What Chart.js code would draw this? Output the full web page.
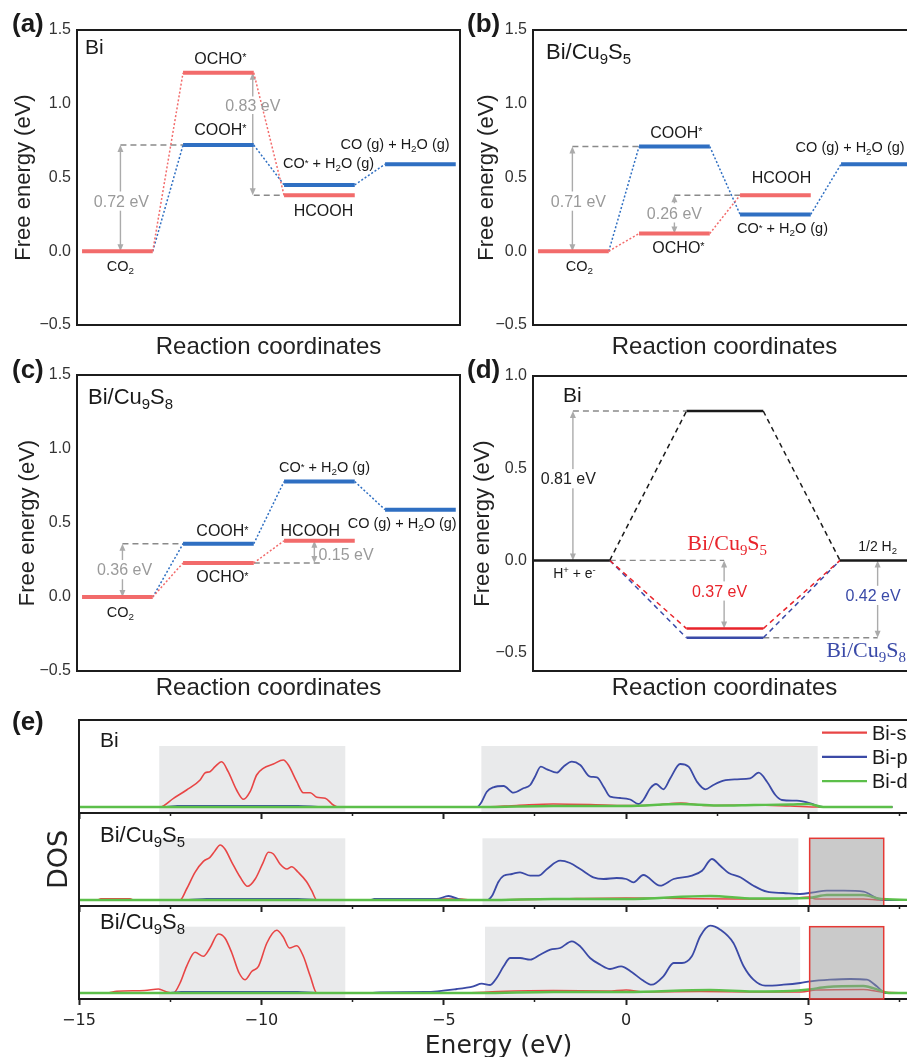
<!DOCTYPE html>
<html>
<head>
<meta charset="utf-8">
<script src="https://cdn.jsdelivr.net/npm/chart.js@4.4.1/dist/chart.umd.min.js"></script>
<style>
html, body { margin: 0; padding: 0; background: #fff; width: 907px; height: 1057px; overflow: hidden; }
canvas { position: absolute; }
</style>
</head>
<body>
<canvas id="pa" width="462" height="362" style="left:0;top:0"></canvas>
<canvas id="pb" width="462" height="362" style="left:456px;top:0"></canvas>
<canvas id="pc" width="462" height="358" style="left:0;top:345px"></canvas>
<canvas id="pd" width="462" height="358" style="left:456px;top:345px"></canvas>
<canvas id="e1" width="920" height="121" style="left:0;top:700px"></canvas>
<canvas id="e2" width="920" height="121" style="left:0;top:793px"></canvas>
<canvas id="e3" width="920" height="175" style="left:0;top:886px"></canvas>
<script>
var SANS = '"Liberation Sans", Arial, Helvetica, sans-serif';
var SERIF = '"Liberation Serif", "Times New Roman", serif';
var WIDE = '"DejaVu Sans", sans-serif';

// ---- free energy diagrams (eV) ----
// CO2RR steps: CO2 -> COOH*/OCHO* -> CO*+H2O / HCOOH -> CO(g)+H2O(g)
var co2rrSteps = ['CO2', 'COOH* / OCHO*', 'CO* + H2O / HCOOH', 'CO (g) + H2O (g)'];
var aRed = [0.00, 1.21, 0.38];        // Bi: CO2, OCHO*, HCOOH
var aBlue = [0.00, 0.72, 0.45, 0.59]; // Bi: CO2, COOH*, CO*, CO(g)
var bRed = [0.00, 0.12, 0.38];        // Bi/Cu9S5
var bBlue = [0.00, 0.71, 0.25, 0.59];
var cRed = [0.00, 0.23, 0.38];        // Bi/Cu9S8
var cBlue = [0.00, 0.36, 0.78, 0.59];

// HER: H+ + e- -> H* -> 1/2 H2
var herSteps = ['H+ + e-', 'H*', '1/2 H2'];
var herBi = [0.00, 0.81, 0.00];
var herS5 = [0.00, -0.37, 0.00];
var herS8 = [0.00, -0.42, 0.00];

var energyTicks = [-0.5, 0, 0.5, 1.0, 1.5];
var energyTickLabels = ['\u22120.5', '0.0', '0.5', '1.0', '1.5'];
var herTicks = [-0.5, 0, 0.5, 1.0];
var herTickLabels = ['\u22120.5', '0.0', '0.5', '1.0'];

// ---- projected DOS, [energy (eV), DOS] ----
var eTicks = [-15, -12.5, -10, -7.5, -5, -2.5, 0, 2.5, 5, 7.5];
var eTickLabels = ['\u221215', '', '\u221210', '', '\u22125', '', '0', '', '5', ''];

var biS = [[-15,0],[-12.78,0],[-12.41,0.87],[-12.05,1.7],[-11.68,2.7],[-11.54,3.43],[-11.41,3.53],[-11.27,4.03],[-11.09,4.53],[-10.91,3.53],[-10.68,1.7],[-10.49,0.77],[-10.31,1.53],[-10.13,3.2],[-9.95,3.87],[-9.67,4.3],[-9.4,4.7],[-9.26,4.2],[-9.03,2.53],[-8.85,1.43],[-8.66,1.43],[-8.48,0.97],[-8.25,0.87],[-8.03,0.2],[-7.89,0],[-4.0,0],[-3.0,0.15],[-2.0,0.3],[-1.0,0.25],[0,0.15],[0.8,0.2],[1.5,0.4],[2.2,0.15],[3.5,0.2],[4.5,0.1],[5.3,0],[7.3,0]];
var biP = [[-15,0],[-12.6,0],[-12.3,0.1],[-9.0,0.1],[-8.3,0],[-4.09,0],[-3.96,0.53],[-3.82,1.53],[-3.64,1.97],[-3.36,2.1],[-3.09,1.43],[-2.82,1.87],[-2.63,2.2],[-2.5,3.03],[-2.34,4.03],[-2.17,3.77],[-1.9,3.43],[-1.72,4.03],[-1.49,4.53],[-1.26,4.2],[-0.99,3.03],[-0.8,2.97],[-0.62,2.03],[-0.44,1.03],[-0.16,0.9],[0.11,0.75],[0.34,0.3],[0.47,0.7],[0.66,1.87],[0.82,2.3],[1.02,1.77],[1.21,2.87],[1.48,4.3],[1.71,4.03],[1.94,2.53],[2.17,1.77],[2.39,2.2],[2.67,2.63],[3.04,2.77],[3.4,2.87],[3.63,3.43],[3.86,2.53],[4.09,1.2],[4.27,0.7],[4.68,0.63],[5.05,0.37],[5.32,0.03],[5.5,0],[7.3,0]];
var biD = [[-15,0],[-4,0],[-2,0.1],[0,0.1],[1.5,0.3],[2.5,0.15],[3.5,0.2],[4.5,0.25],[5.0,0.3],[5.4,0],[7.3,0]];

var s5S = [[-15,0],[-14.5,0],[-14.4,0.13],[-13.6,0.13],[-13.5,0],[-12.23,0],[-12.05,1.1],[-11.82,2.77],[-11.59,3.87],[-11.41,4.27],[-11.27,4.93],[-11.13,5.5],[-11.0,5.1],[-10.81,3.77],[-10.58,2.27],[-10.38,1.37],[-10.17,2.1],[-9.95,3.77],[-9.81,4.77],[-9.67,4.6],[-9.49,3.6],[-9.3,3.1],[-9.17,3.33],[-8.99,2.77],[-8.76,1.83],[-8.62,0.93],[-8.48,0],[-7.0,0],[-6.8,0.1],[-4.5,0.1],[-4.3,0],[-3.8,0],[-2,0.1],[0,0.2],[1.5,0.15],[3,0.1],[4.5,0.15],[5.0,0.3],[5.2,0.1],[6.5,0.1],[7.0,0],[8,0]];
var s5P = [[-15,0],[-12,0],[-11.5,0.1],[-9,0.1],[-8.5,0],[-7.02,0],[-6.9,0.1],[-5.2,0.1],[-4.87,0.4],[-4.6,0.1],[-4.46,0],[-3.82,0],[-3.68,0.4],[-3.5,1.83],[-3.36,2.43],[-3.13,2.6],[-2.91,2.77],[-2.63,2.43],[-2.4,2.43],[-2.17,3.1],[-1.81,3.93],[-1.54,3.7],[-1.26,3.1],[-0.9,2.27],[-0.62,2.1],[-0.26,2.2],[0.0,2.1],[0.2,1.77],[0.47,2.5],[0.93,1.43],[1.3,2.1],[1.8,2.43],[2.08,2.93],[2.35,4.1],[2.58,3.43],[2.81,2.7],[3.13,2.27],[3.49,1.43],[3.86,0.83],[4.31,0.7],[4.77,0.6],[5.14,0.77],[5.5,0.93],[5.96,0.93],[6.51,0.83],[6.87,0.17],[7.05,0],[8,0]];
var s5D = [[-15,0],[-3.8,0],[-2,0.1],[0,0.1],[2.3,0.4],[3.5,0.15],[5.0,0.2],[5.5,0.5],[6.5,0.5],[7.0,0.1],[8,0]];

var s8S = [[-15,0],[-14.2,0],[-13.97,0.17],[-13.2,0.25],[-12.82,0.4],[-12.59,0.1],[-12.41,0],[-12.23,1.0],[-12.05,2.67],[-11.82,4.07],[-11.59,3.67],[-11.41,4.5],[-11.18,5.9],[-11.0,5.5],[-10.81,4.0],[-10.61,2.0],[-10.45,1.33],[-10.26,2.17],[-10.08,2.67],[-9.85,5.0],[-9.58,6.27],[-9.4,5.6],[-9.23,4.5],[-9.03,4.73],[-8.85,3.67],[-8.66,1.67],[-8.48,0],[-4.5,0],[-3.5,0.15],[-2,0.25],[-0.5,0.2],[0,0.3],[0.5,0.1],[2,0.15],[3.5,0.1],[4.8,0.1],[5.2,0.3],[6.5,0.35],[7.0,0.1],[8,0]];
var s8P = [[-15,0],[-12.5,0],[-12.2,0.1],[-9,0.1],[-8.5,0],[-7,0],[-6.75,0.07],[-5.5,0.1],[-4.64,0.4],[-4.19,0.67],[-3.96,0.93],[-3.73,0.8],[-3.55,1.5],[-3.36,2.67],[-3.18,3.5],[-2.91,3.5],[-2.63,3.33],[-2.36,3.83],[-2.08,4.33],[-1.81,4.5],[-1.49,5.17],[-1.26,4.67],[-0.99,3.5],[-0.71,2.83],[-0.44,2.4],[-0.14,2.67],[0.16,2.07],[0.43,1.33],[0.7,0.83],[1.02,1.67],[1.3,3.0],[1.53,3.0],[1.8,3.67],[2.03,5.67],[2.3,6.73],[2.58,6.33],[2.94,5.0],[3.22,2.67],[3.49,1.33],[3.81,0.73],[4.31,0.83],[4.77,1.0],[5.05,1.17],[5.59,1.33],[6.14,1.4],[6.6,1.33],[6.87,0.67],[7.1,0],[8,0]];
var s8D = [[-15,0],[-4,0],[-2,0.1],[0,0.1],[2.3,0.3],[3.5,0.15],[4.5,0.2],[5.0,0.35],[5.5,0.6],[6.5,0.7],[7.0,0.2],[7.2,0],[8,0]];

var RED_L = '#f26b6b', BLUE_L = '#2f6fc2';
var HER_K = '#1a1a1a', HER_R = '#e8242b', HER_B = '#3a4aa8';
var DOS_R = '#e84545', DOS_B = '#3b4aa6', DOS_G = '#5cbf4a';
var GRAY_T = '#9a9a9a';

Chart.defaults.font.family = SANS;
Chart.defaults.color = '#222';

// text with _x subscripts and ^x superscripts
function drawRich(ctx, str, x, y, o) {
  var size = o.size || 16, fam = o.family || SANS, wt = o.bold ? 'bold ' : '';
  var parts = [];
  for (var i = 0; i < str.length; i++) {
    var c = str[i], k = 'n';
    if ((c === '_' || c === '^') && i + 1 < str.length) { k = c; c = str[++i]; }
    var last = parts[parts.length - 1];
    if (last && last.k === k) last.t += c; else parts.push({ k: k, t: c });
  }
  var total = 0;
  parts.forEach(function (p) {
    p.fs = p.k === 'n' ? size : size * 0.68;
    ctx.font = wt + p.fs + 'px ' + fam;
    p.w = ctx.measureText(p.t).width;
    total += p.w;
  });
  var align = o.align || 'center';
  var x0 = align === 'left' ? x : (align === 'right' ? x - total : x - total / 2);
  var base = y + size * 0.36;
  if (o.bg) { ctx.fillStyle = '#fff'; ctx.fillRect(x0 - 2, y - size * 0.6, total + 4, size * 1.2); }
  ctx.fillStyle = o.color || '#1a1a1a';
  ctx.textAlign = 'left';
  ctx.textBaseline = 'alphabetic';
  parts.forEach(function (p) {
    var dy = 0;
    if (p.k === '_') dy = size * 0.22;
    if (p.k === '^') dy = p.t === '*' ? -size * 0.15 : -size * 0.36;
    ctx.font = wt + p.fs + 'px ' + fam;
    ctx.fillText(p.t, x0, base + dy);
    x0 += p.w;
  });
}

function head(ctx, x, y, dir) {
  ctx.beginPath();
  ctx.moveTo(x, y);
  ctx.lineTo(x - 3, y + dir * 7);
  ctx.lineTo(x + 3, y + dir * 7);
  ctx.closePath();
  ctx.fill();
}

function drawNotes(chart, items, onTop) {
  var ctx = chart.ctx, a = chart.chartArea, sx = chart.scales.x, sy = chart.scales.y;
  ctx.save();
  items.forEach(function (it) {
    var top = ['text', 'frame', 'box', 'legend'].indexOf(it.t) >= 0;
    if (top !== onTop) return;
    if (it.t === 'frame') {
      ctx.setLineDash([]);
      ctx.strokeStyle = '#1c1c1c';
      ctx.lineWidth = 2;
      ctx.strokeRect(a.left, a.top, a.right - a.left, a.bottom - a.top);
    } else if (it.t === 'dash') {
      var yy = sy.getPixelForValue(it.y);
      ctx.setLineDash([6, 4]);
      ctx.strokeStyle = '#8a8a8a';
      ctx.lineWidth = 1.4;
      ctx.beginPath();
      ctx.moveTo(sx.getPixelForValue(it.x1), yy);
      ctx.lineTo(sx.getPixelForValue(it.x2), yy);
      ctx.stroke();
    } else if (it.t === 'arrow') {
      var ax = sx.getPixelForValue(it.x);
      var p1 = sy.getPixelForValue(it.y1), p2 = sy.getPixelForValue(it.y2);
      var yt = Math.min(p1, p2), yb = Math.max(p1, p2);
      ctx.setLineDash([]);
      ctx.strokeStyle = '#ababab';
      ctx.fillStyle = '#ababab';
      ctx.lineWidth = 1.4;
      ctx.beginPath();
      if (it.gap) {
        var g1 = sy.getPixelForValue(it.gap[1]), g2 = sy.getPixelForValue(it.gap[0]);
        ctx.moveTo(ax, yt + 6); ctx.lineTo(ax, g1);
        ctx.moveTo(ax, g2); ctx.lineTo(ax, yb - 6);
      } else {
        ctx.moveTo(ax, yt + 6); ctx.lineTo(ax, yb - 6);
      }
      ctx.stroke();
      head(ctx, ax, yt, 1);
      head(ctx, ax, yb, -1);
    } else if (it.t === 'shade' || it.t === 'box') {
      var bx1 = sx.getPixelForValue(it.x1), bx2 = sx.getPixelForValue(it.x2), by = sy.getPixelForValue(it.top);
      ctx.setLineDash([]);
      ctx.fillStyle = it.t === 'shade' ? '#e9eaeb' : 'rgba(150,150,150,0.5)';
      ctx.fillRect(bx1, by, bx2 - bx1, a.bottom - by);
      if (it.t === 'box') {
        ctx.strokeStyle = '#e53935';
        ctx.lineWidth = 1.5;
        ctx.strokeRect(bx1, by, bx2 - bx1, a.bottom - by);
      }
    } else if (it.t === 'legend') {
      chart.data.datasets.forEach(function (ds, i) {
        var ly = it.ly + i * it.dy;
        ctx.setLineDash([]);
        ctx.strokeStyle = ds.borderColor;
        ctx.lineWidth = 2.2;
        ctx.beginPath();
        ctx.moveTo(it.lx, ly);
        ctx.lineTo(it.lx + it.len, ly);
        ctx.stroke();
        drawRich(ctx, ds.label, it.lx + it.len + 5, ly, { size: it.size, align: 'left' });
      });
    } else if (it.t === 'text') {
      var tx, ty;
      if (it.x !== undefined) { tx = sx.getPixelForValue(it.x); ty = sy.getPixelForValue(it.y); }
      else if (it.ax !== undefined) { tx = a.left + it.ax; ty = a.top + it.ay; }
      else { tx = it.cx; ty = it.cy; }
      drawRich(ctx, it.s, tx, ty, it);
    }
  });
  ctx.restore();
}

function notes(items) {
  return {
    id: 'notes',
    beforeDatasetsDraw: function (chart) { drawNotes(chart, items, false); },
    afterDatasetsDraw: function (chart) { drawNotes(chart, items, true); }
  };
}

function levelSet(vals, color, idx, o) {
  var pts = [];
  idx.forEach(function (i) {
    var x0 = i * o.step, x1 = x0 + o.w + (i === vals.length - 1 ? (o.tail || 0) : 0);
    pts.push({ x: x0, y: vals[i] }, { x: x1, y: vals[i] }, { x: x1, y: null });
  });
  return { data: pts, borderColor: color, borderWidth: o.lw, borderCapStyle: 'butt' };
}

function linkSet(vals, color, o) {
  var pts = [];
  for (var i = 0; i + 1 < vals.length; i++) {
    pts.push({ x: i * o.step + o.w, y: vals[i] }, { x: (i + 1) * o.step, y: vals[i + 1] }, { x: (i + 1) * o.step, y: null });
  }
  return { data: pts, borderColor: color, borderWidth: o.cw, borderDash: o.dash };
}

// listed bottom to top
function stackOrder(sets) {
  sets.forEach(function (d, i) { d.order = sets.length - i; });
  return sets;
}

var co2rrOpt = { step: 1, w: 0.7, lw: 4, cw: 1.5, dash: [2, 2] };
var herOpt = { step: 2, w: 1, lw: 2.5, cw: 1.5, dash: [5, 4], tail: 0.6 };

function co2rrSets(red, blue) {
  return stackOrder([
    linkSet(blue, BLUE_L, co2rrOpt),
    linkSet(red, RED_L, co2rrOpt),
    levelSet(blue, BLUE_L, [1, 2, 3], co2rrOpt),
    levelSet(red, RED_L, [0, 1, 2], co2rrOpt)
  ]);
}

function energyChart(id, cfg) {
  return new Chart(document.getElementById(id), {
    type: 'line',
    data: { datasets: cfg.sets },
    options: {
      responsive: false,
      devicePixelRatio: 1,
      animation: false,
      layout: { padding: { left: 0, right: 2, top: cfg.top, bottom: 0 } },
      elements: { point: { radius: 0 }, line: { tension: 0 } },
      plugins: { legend: { display: false }, tooltip: { enabled: false } },
      scales: {
        x: {
          type: 'linear', min: cfg.xMin, max: cfg.xMax,
          grid: { display: false, drawTicks: false },
          border: { display: false },
          ticks: { display: false },
          title: { display: true, text: 'Reaction coordinates', color: '#222', font: { size: 24, lineHeight: 1.2 }, padding: 0 },
          afterFit: function (s) { s.height = cfg.xh; }
        },
        y: {
          min: cfg.yMin, max: cfg.yMax,
          grid: { display: false, drawTicks: false },
          border: { display: false },
          afterBuildTicks: function (s) { s.ticks = cfg.ticks.map(function (v) { return { value: v }; }); },
          ticks: { padding: 6, color: '#333', font: { size: 16 }, callback: function (v, i) { return cfg.labels[i]; } },
          title: { display: true, text: 'Free energy (eV)', color: '#222', font: { size: 22, lineHeight: 1.2 }, padding: { top: cfg.tpad, bottom: 0 } },
          afterFit: function (s) { s.width = 77; }
        }
      }
    },
    plugins: [notes(cfg.items)]
  });
}

function dosSet(label, pts, color, lw, order) {
  return {
    label: label,
    data: pts.map(function (p) { return { x: p[0], y: p[1] }; }),
    borderColor: color, borderWidth: lw, order: order,
    cubicInterpolationMode: 'monotone', pointRadius: 0
  };
}

function isMajor(c) { return c.tick && Math.abs(c.tick.value % 5) < 1e-6; }

function dosChart(id, cfg) {
  return new Chart(document.getElementById(id), {
    type: 'line',
    data: { datasets: [
      dosSet('Bi-s', cfg.s, DOS_R, 1.6, 2),
      dosSet('Bi-p', cfg.p, DOS_B, 1.8, 1),
      dosSet('Bi-d', cfg.d, DOS_G, 2.4, 0)
    ] },
    options: {
      responsive: false,
      devicePixelRatio: 1,
      animation: false,
      layout: { padding: { left: 0, right: 2, top: 20, bottom: 0 } },
      plugins: { legend: { display: false }, tooltip: { enabled: false } },
      scales: {
        x: {
          type: 'linear', min: -15, max: 8,
          afterBuildTicks: function (s) { s.ticks = eTicks.map(function (v) { return { value: v }; }); },
          grid: {
            display: true, drawOnChartArea: false, drawTicks: true, tickLength: 6, tickColor: '#222',
            tickWidth: function (c) { return isMajor(c) ? 2 : 1.5; },
            tickBorderDash: function (c) { return isMajor(c) ? [] : [3, 20]; }
          },
          border: { display: false },
          ticks: {
            autoSkip: false, maxRotation: 0, padding: 6, color: '#222',
            font: { family: WIDE, size: 16 },
            callback: function (v, i) { return cfg.last ? eTickLabels[i] : ''; }
          },
          title: { display: !!cfg.last, text: 'Energy (eV)', color: '#222', font: { family: WIDE, size: 25, lineHeight: 1.2 }, padding: 0 },
          afterFit: function (s) { s.height = cfg.xh; }
        },
        y: {
          min: -0.6, max: 8.7,
          grid: { display: false, drawTicks: false },
          border: { display: false },
          ticks: { display: false },
          title: { display: !!cfg.yTitle, text: 'DOS', color: '#222', font: { family: WIDE, size: 27, lineHeight: 1.2 }, padding: { top: 44, bottom: 0 } },
          afterFit: function (s) { s.width = 79; }
        }
      }
    },
    plugins: [notes(cfg.items)]
  });
}

// (a) Bi
energyChart('pa', {
  sets: co2rrSets(aRed, aBlue), xMin: -0.05, xMax: 3.742, yMin: -0.5, yMax: 1.5,
  ticks: energyTicks, labels: energyTickLabels, top: 30, xh: 37, tpad: 10.8,
  items: [
    { t: 'dash', x1: 0.38, x2: 1, y: aBlue[1] },
    { t: 'arrow', x: 0.38, y1: aBlue[0], y2: aBlue[1] },
    { t: 'dash', x1: 1.7, x2: 2, y: aRed[2] },
    { t: 'arrow', x: 1.69, y1: aRed[2], y2: aRed[1], gap: [0.93, 1.05] },
    { t: 'frame' },
    { t: 'text', x: 0.39, y: 0.34, s: '0.72 eV', size: 16, color: GRAY_T, bg: true },
    { t: 'text', x: 1.69, y: 0.99, s: '0.83 eV', size: 16, color: GRAY_T },
    { t: 'text', x: 1.37, y: 1.31, s: 'OCHO^*', size: 16 },
    { t: 'text', x: 1.37, y: 0.83, s: 'COOH^*', size: 16 },
    { t: 'text', x: 0.38, y: -0.10, s: 'CO_2', size: 14.5 },
    { t: 'text', x: 2.44, y: 0.60, s: 'CO^* + H_2O (g)', size: 14.5 },
    { t: 'text', x: 2.39, y: 0.28, s: 'HCOOH', size: 16 },
    { t: 'text', x: 2.56, y: 0.73, s: 'CO (g) + H_2O (g)', size: 14.5, align: 'left' },
    { t: 'text', ax: 8, ay: 16, s: 'Bi', size: 21, align: 'left' },
    { t: 'text', cx: 12, cy: 23, s: '(a)', size: 26, bold: true, align: 'left' }
  ]
});

// (b) Bi/Cu9S5
energyChart('pb', {
  sets: co2rrSets(bRed, bBlue), xMin: -0.05, xMax: 3.742, yMin: -0.5, yMax: 1.5,
  ticks: energyTicks, labels: energyTickLabels, top: 30, xh: 37, tpad: 17.3,
  items: [
    { t: 'dash', x1: 0.34, x2: 1, y: bBlue[1] },
    { t: 'arrow', x: 0.34, y1: bBlue[0], y2: bBlue[1] },
    { t: 'dash', x1: 1.35, x2: 2, y: bRed[2] },
    { t: 'arrow', x: 1.35, y1: bRed[1], y2: bRed[2] },
    { t: 'frame' },
    { t: 'text', x: 0.40, y: 0.34, s: '0.71 eV', size: 16, color: GRAY_T, bg: true },
    { t: 'text', x: 1.35, y: 0.26, s: '0.26 eV', size: 16, color: GRAY_T, bg: true },
    { t: 'text', x: 1.37, y: 0.81, s: 'COOH^*', size: 16 },
    { t: 'text', x: 1.39, y: 0.03, s: 'OCHO^*', size: 16 },
    { t: 'text', x: 2.41, y: 0.50, s: 'HCOOH', size: 16 },
    { t: 'text', x: 2.42, y: 0.16, s: 'CO^* + H_2O (g)', size: 14.5 },
    { t: 'text', x: 0.41, y: -0.10, s: 'CO_2', size: 14.5 },
    { t: 'text', x: 2.55, y: 0.71, s: 'CO (g) + H_2O (g)', size: 14.5, align: 'left' },
    { t: 'text', ax: 13, ay: 21, s: 'Bi/Cu_9S_5', size: 22, align: 'left' },
    { t: 'text', cx: 11, cy: 23, s: '(b)', size: 26, bold: true, align: 'left' }
  ]
});

// (c) Bi/Cu9S8
energyChart('pc', {
  sets: co2rrSets(cRed, cBlue), xMin: -0.05, xMax: 3.742, yMin: -0.5, yMax: 1.5,
  ticks: energyTicks, labels: energyTickLabels, top: 30, xh: 32, tpad: 14.3,
  items: [
    { t: 'dash', x1: 0.40, x2: 1, y: cBlue[1] },
    { t: 'arrow', x: 0.40, y1: cBlue[0], y2: cBlue[1] },
    { t: 'dash', x1: 1.7, x2: 2.36, y: cRed[1] },
    { t: 'arrow', x: 2.30, y1: cRed[1], y2: cRed[2] },
    { t: 'frame' },
    { t: 'text', x: 0.42, y: 0.185, s: '0.36 eV', size: 16, color: GRAY_T, bg: true },
    { t: 'text', x: 2.34, y: 0.29, s: '0.15 eV', size: 16, color: GRAY_T, align: 'left' },
    { t: 'text', x: 1.39, y: 0.45, s: 'COOH^*', size: 16 },
    { t: 'text', x: 1.39, y: 0.14, s: 'OCHO^*', size: 16 },
    { t: 'text', x: 2.26, y: 0.45, s: 'HCOOH', size: 16 },
    { t: 'text', x: 2.40, y: 0.88, s: 'CO^* + H_2O (g)', size: 14.5 },
    { t: 'text', x: 2.63, y: 0.50, s: 'CO (g) + H_2O (g)', size: 14.5, align: 'left' },
    { t: 'text', x: 0.38, y: -0.10, s: 'CO_2', size: 14.5 },
    { t: 'text', ax: 11, ay: 21, s: 'Bi/Cu_9S_8', size: 22, align: 'left' },
    { t: 'text', cx: 12, cy: 24, s: '(c)', size: 26, bold: true, align: 'left' }
  ]
});

// (d) HER
energyChart('pd', {
  sets: stackOrder([
    linkSet(herS8, HER_B, herOpt),
    linkSet(herS5, HER_R, herOpt),
    linkSet(herBi, HER_K, herOpt),
    levelSet(herS8, HER_B, [1], herOpt),
    levelSet(herS5, HER_R, [1], herOpt),
    levelSet(herBi, HER_K, [0, 1, 2], herOpt)
  ]),
  xMin: 0, xMax: 4.99, yMin: -0.6, yMax: 1.0,
  ticks: herTicks, labels: herTickLabels, top: 31, xh: 32, tpad: 13.8,
  items: [
    { t: 'dash', x1: 0.52, x2: 2, y: herBi[1] },
    { t: 'arrow', x: 0.52, y1: herBi[0], y2: herBi[1] },
    { t: 'dash', x1: 1, x2: 2.49, y: herS5[0] },
    { t: 'arrow', x: 2.49, y1: herS5[1], y2: herS5[0] },
    { t: 'dash', x1: 3, x2: 4.49, y: herS8[1] },
    { t: 'arrow', x: 4.49, y1: herS8[1], y2: herS8[2] },
    { t: 'frame' },
    { t: 'text', x: 0.46, y: 0.443, s: '0.81 eV', size: 16, color: '#222', bg: true },
    { t: 'text', x: 2.43, y: -0.166, s: '0.37 eV', size: 16, color: HER_R, bg: true },
    { t: 'text', x: 4.43, y: -0.19, s: '0.42 eV', size: 16, color: HER_B, bg: true },
    { t: 'text', ax: 30, ay: 18, s: 'Bi', size: 21, align: 'left' },
    { t: 'text', x: 2.53, y: 0.10, s: 'Bi/Cu_9S_5', size: 22, color: HER_R, family: SERIF },
    { t: 'text', x: 3.82, y: -0.48, s: 'Bi/Cu_9S_8', size: 22, color: HER_B, family: SERIF, align: 'left' },
    { t: 'text', x: 4.49, y: 0.08, s: '1/2 H_2', size: 14 },
    { t: 'text', x: 0.54, y: -0.07, s: 'H^+ + e^-', size: 14 },
    { t: 'text', cx: 11, cy: 24, s: '(d)', size: 26, bold: true, align: 'left' }
  ]
});

// (e) DOS
dosChart('e1', {
  s: biS, p: biP, d: biD, xh: 8,
  items: [
    { t: 'shade', x1: -12.8, x2: -7.7, top: 6.1 },
    { t: 'shade', x1: -3.97, x2: 5.25, top: 6.1 },
    { t: 'frame' },
    { t: 'legend', lx: 822, ly: 32.7, dy: 24.2, len: 45, size: 20 },
    { t: 'text', ax: 21, ay: 19, s: 'Bi', size: 21, align: 'left' },
    { t: 'text', cx: 12, cy: 21, s: '(e)', size: 26, bold: true, align: 'left' }
  ]
});
dosChart('e2', {
  s: s5S, p: s5P, d: s5D, xh: 8, yTitle: true,
  items: [
    { t: 'shade', x1: -12.8, x2: -7.7, top: 6.17 },
    { t: 'shade', x1: -3.94, x2: 4.72, top: 6.17 },
    { t: 'frame' },
    { t: 'box', x1: 5.03, x2: 7.06, top: 6.17 },
    { t: 'text', ax: 21, ay: 21, s: 'Bi/Cu_9S_5', size: 22, align: 'left' }
  ]
});
dosChart('e3', {
  s: s8S, p: s8P, d: s8D, xh: 62, last: true,
  items: [
    { t: 'shade', x1: -12.8, x2: -7.7, top: 6.63 },
    { t: 'shade', x1: -3.87, x2: 4.77, top: 6.63 },
    { t: 'frame' },
    { t: 'box', x1: 5.03, x2: 7.06, top: 6.63 },
    { t: 'text', ax: 21, ay: 15, s: 'Bi/Cu_9S_8', size: 22, align: 'left' }
  ]
});
</script>
</body>
</html>
